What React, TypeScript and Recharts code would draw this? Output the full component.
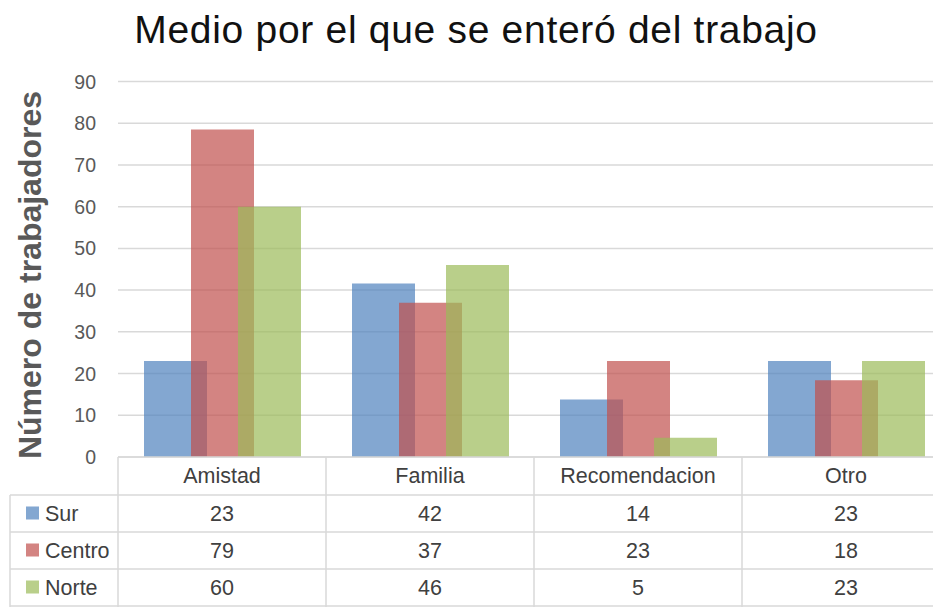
import React from 'react';
import { BarChart, Bar, XAxis, YAxis, CartesianGrid, Customized } from 'recharts';

const categories = ['Amistad', 'Familia', 'Recomendacion', 'Otro'];
const sur = [23, 41.6, 13.8, 23];
const centro = [78.5, 37, 23, 18.4];
const norte = [60, 46, 4.6, 23];
const yTicks = [0, 10, 20, 30, 40, 50, 60, 70, 80, 90];

const seriesNames = ['Sur', 'Centro', 'Norte'];
const seriesValues = [sur, centro, norte];
const colors = ['#4F81BD', '#C0504D', '#9BBB59'];

const data = categories.map((c, i) => ({ name: c, Sur: sur[i], Centro: centro[i], Norte: norte[i] }));

const W = 933;
const CW = 950;
const H = 607;
const LEFT = 118;
const TOP = 81.5;
const AXIS_H = 150;
const BAND = (CW - LEFT) / categories.length;
const ROWS = [457, 495, 532, 569, 606];
const TABLE_LEFT = 10;
const LINE = '#d9d9d9';
const TXT = '#404040';
const FONT = '"Liberation Sans", Arial, sans-serif';
const TFS = 21.5;

const XTick = (props: any) => {
  const { x, payload, index } = props;
  const i = index ?? payload.index;
  const left = x - BAND / 2;
  const right = x + BAND / 2;
  const els: any[] = [];
  els.push(<line key="vl" x1={left} x2={left} y1={ROWS[0]} y2={H} stroke={LINE} strokeWidth={1.5} />);
  for (let r = 1; r < ROWS.length; r++) {
    els.push(<line key={'h' + r} x1={left} x2={right} y1={ROWS[r]} y2={ROWS[r]} stroke={LINE} strokeWidth={1.5} />);
  }
  els.push(
    <text key="cat" x={x} y={(ROWS[0] + ROWS[1]) / 2} textAnchor="middle" dominantBaseline="central" fontSize={TFS} fill={TXT} fontFamily={FONT}>
      {payload.value}
    </text>
  );
  seriesValues.forEach((vals, s) => {
    els.push(
      <text key={'v' + s} x={x} y={(ROWS[s + 1] + ROWS[s + 2]) / 2} textAnchor="middle" dominantBaseline="central" fontSize={TFS} fill={TXT} fontFamily={FONT}>
        {Math.round(vals[i])}
      </text>
    );
  });
  if (i === 0) {
    els.push(<line key="ll" x1={TABLE_LEFT} x2={TABLE_LEFT} y1={ROWS[1]} y2={H} stroke={LINE} strokeWidth={1.5} />);
    for (let r = 1; r < ROWS.length; r++) {
      els.push(<line key={'lh' + r} x1={TABLE_LEFT} x2={left} y1={ROWS[r]} y2={ROWS[r]} stroke={LINE} strokeWidth={1.5} />);
    }
    seriesNames.forEach((n, s) => {
      const cy = (ROWS[s + 1] + ROWS[s + 2]) / 2;
      els.push(<rect key={'sw' + s} x={26} y={cy - 7} width={13} height={13} fill={colors[s]} fillOpacity={0.7} />);
      els.push(
        <text key={'n' + s} x={45} y={cy} dominantBaseline="central" fontSize={TFS} fill={TXT} fontFamily={FONT}>
          {n}
        </text>
      );
    });
  }
  return <g>{els}</g>;
};

const YTick = (props: any) => {
  const { y, payload } = props;
  return (
    <text x={96} y={y} dy={7} textAnchor="end" fontSize={19.5} fill="#595959" fontFamily={FONT}>
      {payload.value}
    </text>
  );
};

const Titles = () => (
  <g>
    <text x={476} y={43} textAnchor="middle" fontSize={39} letterSpacing={0.7} fill="#111" fontFamily={FONT}>
      Medio por el que se enteró del trabajo
    </text>
    <text x={0} y={0} transform="translate(41,275) rotate(-90)" textAnchor="middle" fontSize={32} fontWeight="bold" fill="#595959" fontFamily={FONT}>
      Número de trabajadores
    </text>
  </g>
);

export default function App() {
  return (
    <div style={{ position: 'absolute', left: 0, top: 0, width: W, height: H, overflow: 'hidden', background: '#fff' }}>
      <BarChart width={CW} height={H} data={data} margin={{ top: TOP, right: 0, left: 0, bottom: 0 }} barSize={63} barGap={-16}>
        <CartesianGrid vertical={false} stroke={LINE} strokeWidth={1.5} />
        <XAxis dataKey="name" height={AXIS_H} tick={<XTick />} tickLine={false} axisLine={{ stroke: LINE, strokeWidth: 1.5 }} interval={0} />
        <YAxis width={LEFT} domain={[0, 90]} ticks={yTicks} tick={<YTick />} tickLine={false} axisLine={false} interval={0} />
        {seriesNames.map((n, s) => (
          <Bar key={n} dataKey={n} fill={colors[s]} fillOpacity={0.7} isAnimationActive={false} />
        ))}
        <Customized component={Titles} />
      </BarChart>
    </div>
  );
}
